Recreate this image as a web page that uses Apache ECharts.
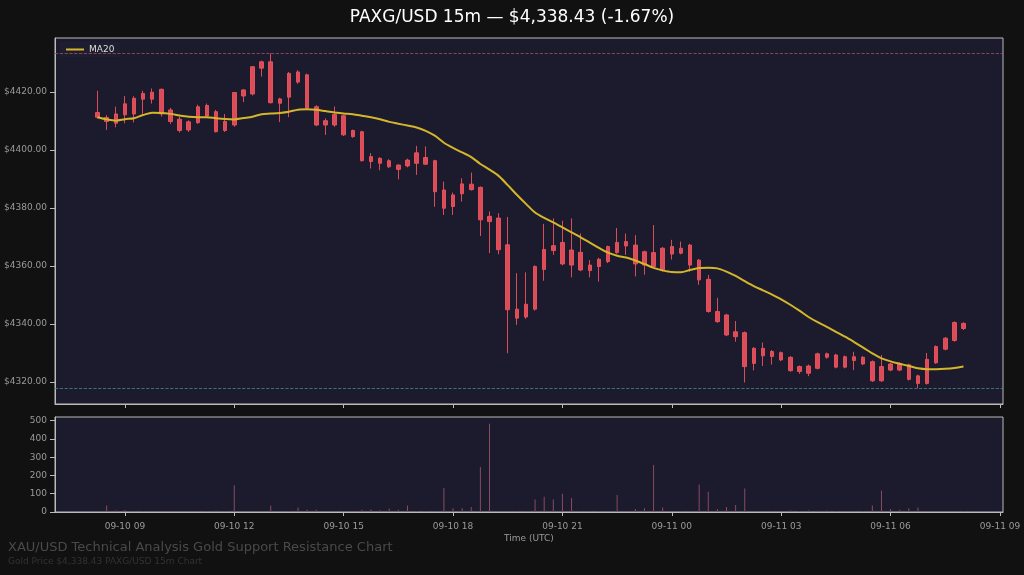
<!DOCTYPE html><html><head><meta charset="utf-8">
<script src="https://cdn.jsdelivr.net/npm/echarts@6/dist/echarts.min.js"></script>
<style>html,body{margin:0;background:#111111;}#c{width:1024px;height:575px;}</style></head><body><div id="c"></div>
<script>
const startTime = Date.UTC(2025,8,10,8,15);
const stepMs = 15*60*1000;
const bodyTop = [4412.9,4411.2,4412.4,4415.9,4417.8,4419.5,4419.9,4420.9,4413.8,4410.6,4409.7,4414.9,4415.3,4413.2,4409.8,4419.8,4420.7,4428.7,4430.4,4430.4,4417.6,4426.4,4426.9,4425.9,4414.9,4410.1,4412.2,4411.8,4406.7,4406.3,4397.7,4397.1,4396.3,4394.8,4396.5,4399.0,4397.4,4396.3,4386.2,4384.5,4388.3,4388.2,4387.1,4377.1,4376.5,4367.3,4345.1,4346.8,4359.8,4365.7,4367.0,4368.1,4365.5,4364.7,4360.3,4362.3,4366.7,4368.1,4368.4,4367.2,4364.9,4364.6,4366.1,4366.7,4366.1,4367.2,4362.0,4355.4,4344.3,4343.1,4337.3,4337.0,4331.6,4331.6,4330.5,4330.1,4328.5,4325.3,4325.5,4329.7,4329.7,4329.3,4328.7,4328.7,4328.5,4327.0,4325.3,4326.2,4326.4,4325.9,4322.1,4327.8,4332.2,4335.1,4340.5,4340.2];
const bodyBottom = [4411.3,4409.8,4409.2,4412.1,4412.4,4417.5,4417.5,4412.4,4409.8,4406.7,4406.9,4409.4,4411.7,4406.3,4406.7,4408.6,4418.6,4419.3,4428.2,4416.3,4416.1,4418.2,4423.4,4414.5,4408.6,4408.6,4408.6,4405.2,4404.6,4396.3,4396.0,4395.4,4394.2,4393.3,4394.5,4395.4,4395.1,4385.6,4379.9,4380.5,4384.9,4386.3,4375.9,4375.3,4365.6,4344.9,4342.0,4342.4,4345.1,4358.8,4365.3,4360.7,4360.3,4358.6,4358.4,4359.8,4361.5,4364.6,4366.9,4360.7,4360.3,4359.8,4358.4,4364.1,4364.4,4360.3,4355.2,4344.3,4340.8,4336.2,4335.6,4325.3,4326.4,4329.0,4328.8,4327.6,4323.9,4323.6,4323.0,4324.7,4328.5,4325.1,4325.1,4327.4,4326.2,4320.4,4320.4,4324.1,4324.1,4320.9,4319.5,4319.5,4326.6,4331.3,4334.3,4338.43];
const highs = [4420.4,4412.0,4414.9,4418.6,4418.5,4420.4,4421.2,4421.2,4414.5,4411.5,4410.2,4415.6,4416.0,4413.8,4412.4,4420.0,4421.0,4428.9,4430.8,4433.3,4418.0,4426.9,4427.5,4426.3,4415.4,4410.9,4415.0,4412.2,4407.0,4406.6,4398.9,4397.5,4396.8,4395.0,4397.0,4401.4,4401.2,4396.6,4389.1,4385.3,4390.2,4392.2,4387.4,4378.8,4378.2,4376.9,4357.5,4357.8,4360.2,4374.5,4376.4,4375.6,4376.4,4371.2,4362.0,4362.8,4367.0,4373.1,4371.2,4370.6,4365.3,4374.1,4366.5,4369.0,4368.4,4367.6,4362.4,4356.9,4349.0,4343.5,4341.0,4337.4,4332.0,4333.6,4331.0,4330.5,4328.9,4325.7,4326.0,4330.1,4330.1,4329.7,4329.1,4330.4,4328.9,4327.4,4329.3,4326.6,4326.8,4326.3,4322.5,4330.0,4332.6,4335.5,4340.9,4340.6];
const lows = [4410.8,4406.9,4407.8,4409.2,4409.5,4412.4,4416.0,4411.5,4409.0,4406.0,4406.2,4409.0,4411.0,4406.0,4406.2,4408.0,4416.5,4418.8,4425.3,4416.0,4409.6,4411.3,4422.8,4414.0,4408.2,4405.2,4408.0,4404.8,4404.2,4396.0,4393.6,4393.0,4393.8,4389.9,4394.0,4391.4,4394.8,4380.4,4377.6,4377.6,4382.2,4386.0,4370.3,4364.4,4364.0,4329.9,4339.7,4341.8,4344.6,4354.9,4363.8,4360.2,4356.1,4358.2,4356.1,4354.6,4361.0,4364.2,4363.8,4356.4,4357.0,4359.4,4358.0,4362.2,4364.0,4358.0,4353.5,4343.9,4340.4,4335.8,4333.9,4319.8,4324.0,4325.5,4326.0,4327.2,4323.5,4322.8,4322.0,4324.3,4328.0,4324.7,4324.7,4324.1,4325.8,4320.0,4320.0,4323.7,4323.7,4320.5,4317.8,4319.1,4326.2,4330.9,4333.9,4337.9];
const volumes = [3,35,8,10,4,5,3,4,5,3,4,5,6,8,5,146,4,3,6,35,4,5,25,12,12,4,3,5,4,12,14,10,18,12,35,5,6,4,132,20,20,28,247,483,4,3,5,6,69,83,69,100,76,4,3,5,4,93,4,17,21,257,25,5,4,3,150,111,17,28,39,128,4,3,4,5,8,6,8,7,8,6,4,3,5,35,118,17,12,20,25,3,4,3,4,5];
const yTicks = [4320,4340,4360,4380,4400,4420];
const volTicks = [0,100,200,300,400,500];
const xTickHours = [9,12,15,18,21,24,27,30,33];
const resistance = 4433.4, support = 4317.9;
const maPeriod = 20;

const times = bodyTop.map((_,i)=>startTime+i*stepMs);
const ohlc = bodyTop.map((t,i)=>[times[i],t,bodyBottom[i],lows[i],highs[i]]);
const closes = bodyBottom;
const ma = closes.map((_,i)=>{const s=Math.max(0,i-maPeriod+1);let sum=0;for(let k=s;k<=i;k++)sum+=closes[k];return [times[i],+(sum/(i-s+1)).toFixed(2)];});
const vol = volumes.map((v,i)=>[times[i],v]);
const xTicks = xTickHours.map(h=>Date.UTC(2025,8,10,h));
const xMin = Date.UTC(2025,8,10,7,5), xMax = Date.UTC(2025,8,11,9,5);
const p2=n=>String(n).padStart(2,'0');
const fmt = v=>{const d=new Date(v);return p2(d.getUTCMonth()+1)+'-'+p2(d.getUTCDate())+' '+p2(d.getUTCHours());};
const red='#f0525c', axisC='#bbbbbb', lblC='#9a9a9a';
const chart = echarts.init(document.getElementById('c'));
chart.setOption({
  backgroundColor:'#111111', animation:false,
  title:{text:'PAXG/USD 15m — $4,338.43 (-1.67%)',left:'center',top:4,textStyle:{color:'#ffffff',fontSize:17,fontWeight:'normal',fontFamily:'DejaVu Sans'}},
  graphic:[
    {type:'text',left:8,top:541,z:100,style:{text:'XAU/USD Technical Analysis Gold Support Resistance Chart',fill:'#4a4a4a',font:'13px DejaVu Sans'}},
    {type:'text',left:8,top:557,z:100,style:{text:'Gold Price $4,338.43 PAXG/USD 15m Chart',fill:'#333333',font:'9px DejaVu Sans'}}
  ],
  legend:{data:['MA20'],left:60,top:42,itemWidth:18,itemHeight:2,icon:'rect',textStyle:{color:'#dddddd',fontSize:9,fontFamily:'DejaVu Sans'},backgroundColor:'#1e1e30',padding:[3,6]},
  grid:[{left:55,right:21,top:38,height:366,backgroundColor:'#1c1b2e',show:true,borderColor:axisC,borderWidth:1},
        {left:55,right:21,top:417,height:95,backgroundColor:'#1c1b2e',show:true,borderColor:axisC,borderWidth:1}],
  xAxis:[
    {type:'value',gridIndex:0,min:xMin,max:xMax,scale:true,axisLine:{show:true,onZero:false,lineStyle:{color:axisC}},axisLabel:{show:false,customValues:xTicks},axisTick:{show:true,customValues:xTicks,lineStyle:{color:axisC},length:4},splitLine:{show:false}},
    {type:'value',gridIndex:1,min:xMin,max:xMax,scale:true,name:'Time (UTC)',nameLocation:'middle',nameGap:22,nameTextStyle:{color:lblC,fontSize:9,fontFamily:'DejaVu Sans'},axisLine:{show:true,onZero:false,lineStyle:{color:axisC}},axisLabel:{customValues:xTicks,formatter:fmt,color:lblC,fontSize:9,fontFamily:'DejaVu Sans',margin:10},axisTick:{show:true,customValues:xTicks,lineStyle:{color:axisC},length:4},splitLine:{show:false}}
  ],
  yAxis:[
    {type:'value',gridIndex:0,min:4312.4,max:4438.6,scale:true,axisLine:{show:true,lineStyle:{color:axisC}},axisLabel:{customValues:yTicks,formatter:v=>'$'+v.toFixed(2),color:lblC,fontSize:9,fontFamily:'DejaVu Sans'},axisTick:{show:true,customValues:yTicks,lineStyle:{color:axisC}},splitLine:{show:false}},
    {type:'value',gridIndex:1,min:0,max:520,axisLine:{show:true,lineStyle:{color:axisC}},axisLabel:{customValues:volTicks,color:lblC,fontSize:9,fontFamily:'DejaVu Sans'},axisTick:{show:true,customValues:volTicks,lineStyle:{color:axisC}},splitLine:{show:false}}
  ],
  series:[
    {type:'candlestick',name:'Price',xAxisIndex:0,yAxisIndex:0,data:ohlc,encode:{x:0,y:[1,2,3,4]},barWidth:4,
     itemStyle:{color:red,color0:red,borderColor:red,borderColor0:red,borderWidth:1,opacity:0.9},
     markLine:{symbol:'none',silent:true,label:{show:false},data:[{yAxis:resistance,lineStyle:{color:'#a05060',type:'dashed',width:0.8}},{yAxis:support,lineStyle:{color:'#3f8a90',type:'dashed',width:0.8}}]}},
    {type:'line',name:'MA20',xAxisIndex:0,yAxisIndex:0,data:ma,showSymbol:false,smooth:0.3,lineStyle:{color:'#d4b62a',width:2},itemStyle:{color:'#d4b62a'}},
    {type:'bar',name:'Volume',xAxisIndex:1,yAxisIndex:1,data:vol,barWidth:1,itemStyle:{color:'#8a4a62'}}
  ]
});
</script></body></html>
